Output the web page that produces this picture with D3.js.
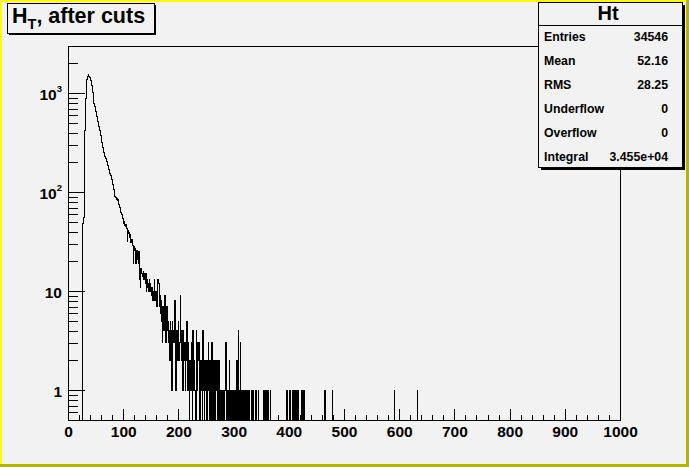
<!DOCTYPE html>
<html>
<head>
<meta charset="utf-8">
<script src="https://cdn.jsdelivr.net/npm/d3@7"></script>
<style>
  html, body { margin: 0; padding: 0; background: #f2f2f2; }
  svg { display: block; font-family: "Liberation Sans", Arial, Helvetica, sans-serif; font-weight: bold; }
</style>
</head>
<body>
<svg id="chart" width="689" height="467"></svg>
<script>
// histogram "Ht": 1000 bins of width 1 from 0 to 1000
const binRange = [0, 1000];
const nBins = 1000;

// contents of bins 0..349
const bodyCounts = [
  0, 0, 0, 0, 0, 0, 0, 0, 0, 0,
  0, 0, 0, 0, 0, 0, 0, 0, 0, 0,
  0, 0, 0, 0, 0, 0, 0, 48, 55, 390,
  420, 840, 890, 1150, 1370, 1430, 1490, 1530, 1480, 1450,
  1400, 1340, 1280, 1210, 1140, 1020, 940, 790, 730, 690,
  650, 600, 582, 545, 515, 495, 462, 425, 398, 372,
  345, 318, 301, 283, 270, 252, 243, 231, 220, 214,
  203, 197, 186, 181, 170, 163, 154, 149, 138, 133,
  127, 119, 113, 106, 97, 91, 88, 85, 86, 83,
  84, 79, 76, 72, 70, 65, 63, 59, 57, 54,
  52, 48, 51, 46, 45, 47, 43, 32, 41, 38,
  39, 35, 37, 34, 31, 33, 30, 29, 19, 28,
  26, 27, 24, 19, 26, 21, 23, 19, 25, 18,
  13, 11, 17, 16, 15, 14, 16, 13, 15, 14,
  12, 15, 10, 13, 11, 12, 10, 13, 11, 12,
  10, 9, 11, 8, 10, 9, 13, 8, 9, 10,
  8, 7, 9, 13, 12, 8, 7, 9, 6, 8,
  5, 3, 7, 4, 5, 9, 4, 3, 5, 7,
  4, 5, 3, 4, 2, 5, 3, 4, 1, 5,
  3, 4, 3, 8, 5, 1, 3, 4, 2, 3,
  5, 2, 3, 9, 3, 2, 4, 3, 1, 4,
  2, 3, 1, 2, 3, 5, 2, 1, 3, 2,
  0, 2, 1, 3, 2, 0, 4, 1, 2, 2,
  1, 0, 4, 2, 1, 3, 2, 3, 1, 0,
  2, 1, 2, 0, 4, 1, 2, 0, 1, 2,
  1, 0, 2, 1, 3, 1, 0, 2, 1, 0,
  3, 1, 0, 2, 1, 2, 0, 2, 1, 2,
  0, 2, 1, 0, 2, 1, 0, 1, 0, 1,
  0, 1, 0, 0, 1, 2, 3, 0, 1, 0,
  1, 0, 2, 0, 1, 0, 0, 1, 0, 1,
  0, 1, 0, 0, 1, 0, 2, 0, 4, 1,
  0, 0, 3, 0, 1, 0, 1, 1, 0, 1,
  0, 1, 0, 1, 0, 0, 1, 0, 1, 0,
  0, 0, 1, 0, 1, 1, 0, 0, 0, 1,
  0, 1, 0, 0, 0, 1, 0, 0, 0, 0
];

// sparse tail: bins above 350 holding a single entry
const tailBins = [354, 356, 358, 361, 363, 366, 395, 397, 402, 406, 408, 411,
  414, 417, 423, 425, 428, 464, 466, 479, 591, 633];

const xMajorTicks = [0, 100, 200, 300, 400, 500, 600, 700, 800, 900, 1000];
const yDecades = [1, 10, 100, 1000];
const yRange = [0.5, 3000];

const statsTitle = "Ht";
const statsRows = [
  ["Entries", "34546"],
  ["Mean", "52.16"],
  ["RMS", "28.25"],
  ["Underflow", "0"],
  ["Overflow", "0"],
  ["Integral", "3.455e+04"]
];

// ---- layout ----
const W = 689, H = 467;
const frame = { left: 68, right: 620, top: 46, bottom: 420 };

const svg = d3.select("#chart");

// canvas with bevelled yellow border
svg.append("rect").attr("width", W).attr("height", H).attr("fill", "#f2f2f2");
svg.append("rect").attr("x", 0).attr("y", 0).attr("width", W).attr("height", 2).attr("fill", "#ffff00");
svg.append("rect").attr("x", 0).attr("y", 0).attr("width", 2).attr("height", H).attr("fill", "#ffff00");
svg.append("rect").attr("x", W - 3).attr("y", 0).attr("width", 3).attr("height", H).attr("fill", "#b4b400");
svg.append("rect").attr("x", 0).attr("y", H - 3).attr("width", W).attr("height", 3).attr("fill", "#b4b400");

const x = d3.scaleLinear().domain(binRange).range([frame.left, frame.right]);
const y = d3.scaleLog().domain(yRange).range([frame.bottom, frame.top]);

// fill all bins
const counts = new Array(nBins).fill(0);
bodyCounts.forEach((c, i) => { counts[i] = c; });
tailBins.forEach(b => { counts[b] += 1; });

const binWidth = (binRange[1] - binRange[0]) / nBins;
const pts = counts.map((c, i) => [binRange[0] + i * binWidth, c]);
pts.push([binRange[1], counts[nBins - 1]]);

// empty bins sit on the bottom of the frame, like ROOT does in log scale
const yPos = c => (c > 0 ? y(Math.max(c, yRange[0])) : frame.bottom);

const histLine = d3.line()
  .x(d => x(d[0]))
  .y(d => yPos(d[1]))
  .curve(d3.curveStepAfter);

svg.append("path")
  .datum(pts)
  .attr("d", histLine)
  .attr("fill", "none")
  .attr("stroke", "#000")
  .attr("stroke-width", 1)
  .attr("shape-rendering", "crispEdges");

// frame
svg.append("rect")
  .attr("x", frame.left).attr("y", frame.top)
  .attr("width", frame.right - frame.left).attr("height", frame.bottom - frame.top)
  .attr("fill", "none").attr("stroke", "#000").attr("stroke-width", 1)
  .attr("shape-rendering", "crispEdges");

// x axis: ticks point into the frame
const xMinor = d3.range(0, 1001, 20).filter(v => v % 100 !== 0);
const xAxisG = svg.append("g").attr("transform", `translate(0,${frame.bottom})`);
xAxisG.append("g")
  .call(d3.axisBottom(x).tickValues(xMinor).tickSize(-5.5).tickFormat(""));
xAxisG.append("g")
  .call(d3.axisBottom(x).tickValues(xMajorTicks).tickSize(-11).tickPadding(6).tickFormat(d3.format("d")));
xAxisG.selectAll(".domain").remove();
xAxisG.selectAll("line").attr("stroke", "#000").attr("shape-rendering", "crispEdges");
xAxisG.selectAll("text")
  .attr("font-size", "15.5px").attr("font-weight", "bold")
  .attr("font-family", "Liberation Sans, Arial, sans-serif").attr("fill", "#000");

// y axis (log)
const yMinor = [];
[0.1, 1, 10, 100, 1000].forEach(d => {
  for (let k = 2; k <= 9; k++) {
    const v = d * k;
    if (v > yRange[0] && v < yRange[1]) yMinor.push(v);
  }
});
const yAxisG = svg.append("g").attr("transform", `translate(${frame.left},0)`);
yAxisG.append("g")
  .call(d3.axisLeft(y).tickValues(yMinor).tickSize(-9.5).tickFormat(""));
const yMajorG = yAxisG.append("g")
  .call(d3.axisLeft(y).tickValues(yDecades).tickSize(-17).tickPadding(6).tickFormat(""));
yAxisG.selectAll(".domain").remove();
yAxisG.selectAll("line").attr("stroke", "#000").attr("shape-rendering", "crispEdges");

// labels 1, 10, 10^2, 10^3
yMajorG.selectAll(".tick text").each(function(d) {
  const t = d3.select(this)
    .attr("font-size", "15.5px").attr("font-weight", "bold")
    .attr("font-family", "Liberation Sans, Arial, sans-serif")
    .attr("fill", "#000").attr("dy", "0.38em");
  const p = Math.round(Math.log10(d));
  if (p <= 1) {
    t.text(String(d));
  } else {
    t.text(null);
    t.append("tspan").text("10");
    t.append("tspan").attr("font-size", "9.5px").attr("dy", "-7.3px").text(String(p));
  }
});

// title pave with shadow
const titleBox = { x: 7, y: 3, w: 147, h: 30 };
svg.append("rect")
  .attr("x", titleBox.x + 2).attr("y", titleBox.y + 2)
  .attr("width", titleBox.w).attr("height", titleBox.h).attr("fill", "#000");
svg.append("rect")
  .attr("x", titleBox.x).attr("y", titleBox.y)
  .attr("width", titleBox.w).attr("height", titleBox.h)
  .attr("fill", "#f2f2f2").attr("stroke", "#000").attr("stroke-width", 1)
  .attr("shape-rendering", "crispEdges");
const titleText = svg.append("text")
  .attr("x", 12).attr("y", 22.5)
  .attr("font-size", "21.5px").attr("fill", "#000");
titleText.append("tspan").text("H");
titleText.append("tspan").attr("font-size", "14.5px").attr("dy", "6.5px").text("T");
titleText.append("tspan").attr("dy", "-6.5px").text(", after cuts");

// stats box
const statsBox = { x: 538, y: 2, w: 144, h: 165, headerH: 23, rowH: 24 };
svg.append("rect")
  .attr("x", statsBox.x + 3).attr("y", statsBox.y + 3)
  .attr("width", statsBox.w).attr("height", statsBox.h).attr("fill", "#000");
svg.append("rect")
  .attr("x", statsBox.x).attr("y", statsBox.y)
  .attr("width", statsBox.w).attr("height", statsBox.h)
  .attr("fill", "#f2f2f2").attr("stroke", "#000").attr("stroke-width", 1)
  .attr("shape-rendering", "crispEdges");
svg.append("line")
  .attr("x1", statsBox.x).attr("x2", statsBox.x + statsBox.w)
  .attr("y1", statsBox.y + statsBox.headerH).attr("y2", statsBox.y + statsBox.headerH)
  .attr("stroke", "#000").attr("shape-rendering", "crispEdges");
svg.append("text")
  .attr("x", 608).attr("y", 19.5)
  .attr("text-anchor", "middle").attr("font-size", "20px").attr("fill", "#000")
  .text(statsTitle);

const rows = svg.append("g").selectAll("g").data(statsRows).join("g")
  .attr("transform", (d, i) => `translate(0,${41 + i * statsBox.rowH})`);
rows.append("text")
  .attr("x", 544).attr("font-size", "12.3px").attr("fill", "#000")
  .text(d => d[0]);
rows.append("text")
  .attr("x", 668).attr("text-anchor", "end").attr("font-size", "12.3px").attr("fill", "#000")
  .text(d => d[1]);
</script>
</body>
</html>
